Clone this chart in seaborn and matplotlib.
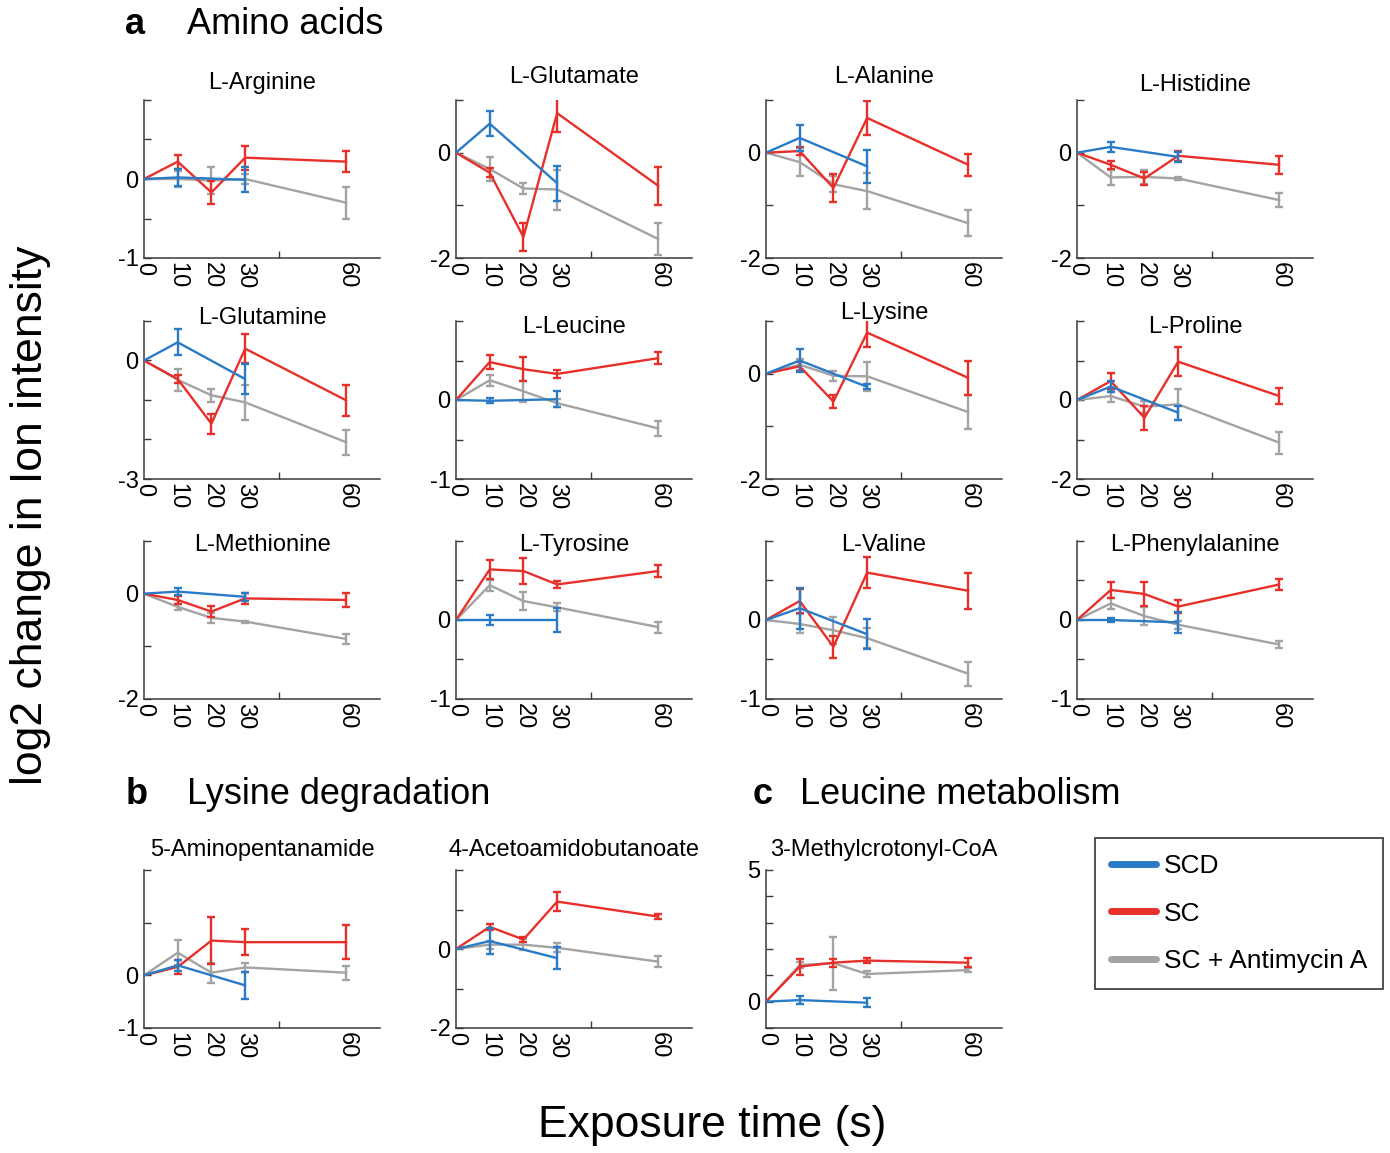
import numpy as np
import pandas as pd
import matplotlib
matplotlib.use("Agg")
import matplotlib.pyplot as plt
from matplotlib.lines import Line2D
import seaborn as sns

sns.set_theme(style="white")
plt.rcParams['font.family'] = ['Liberation Sans', 'DejaVu Sans']
plt.rcParams['axes.unicode_minus'] = False
plt.rcParams['text.color'] = 'black'
plt.rcParams['axes.labelcolor'] = 'black'

# ---------------- data ----------------
time_full = [0, 10, 20, 30, 60]
time_scd = [0, 10, 30]
x_tick_labels = ["0", "10", "20", "30", "60"]
conditions = ["SCD", "SC", "SC + Antimycin A"]

names = ["L-Arginine", "L-Glutamate", "L-Alanine", "L-Histidine",
         "L-Glutamine", "L-Leucine", "L-Lysine", "L-Proline",
         "L-Methionine", "L-Tyrosine", "L-Valine", "L-Phenylalanine",
         "5-Aminopentanamide", "4-Acetoamidobutanoate", "3-Methylcrotonyl-CoA"]

arginine_scd = [0, 0.02, -0.01]; arginine_scd_err = [0, 0.11, 0.16]
arginine_sc = [0, 0.22, -0.17, 0.27, 0.22]; arginine_sc_err = [0, 0.09, 0.15, 0.15, 0.13]
arginine_aa = [0, 0.0, -0.02, 0.0, -0.30]; arginine_aa_err = [0, 0.10, 0.17, 0.06, 0.20]

glutamate_scd = [0, 0.55, -0.58]; glutamate_scd_err = [0, 0.24, 0.33]
glutamate_sc = [0, -0.38, -1.6, 0.75, -0.63]; glutamate_sc_err = [0, 0.08, 0.27, 0.36, 0.36]
glutamate_aa = [0, -0.31, -0.68, -0.70, -1.64]; glutamate_aa_err = [0, 0.22, 0.10, 0.38, 0.30]

alanine_scd = [0, 0.28, -0.26]; alanine_scd_err = [0, 0.24, 0.32]
alanine_sc = [0, 0.03, -0.67, 0.66, -0.23]; alanine_sc_err = [0, 0.08, 0.27, 0.32, 0.21]
alanine_aa = [0, -0.18, -0.60, -0.73, -1.34]; alanine_aa_err = [0, 0.26, 0.15, 0.34, 0.25]

histidine_scd = [0, 0.11, -0.08]; histidine_scd_err = [0, 0.10, 0.10]
histidine_sc = [0, -0.23, -0.49, -0.06, -0.23]; histidine_sc_err = [0, 0.08, 0.12, 0.10, 0.17]
histidine_aa = [0, -0.47, -0.46, -0.49, -0.90]; histidine_aa_err = [0, 0.14, 0.13, 0.03, 0.14]

glutamine_scd = [0, 0.46, -0.47]; glutamine_scd_err = [0, 0.33, 0.37]
glutamine_sc = [0, -0.47, -1.6, 0.30, -1.01]; glutamine_sc_err = [0, 0.10, 0.25, 0.36, 0.39]
glutamine_aa = [0, -0.49, -0.88, -1.06, -2.07]; glutamine_aa_err = [0, 0.27, 0.16, 0.45, 0.31]

leucine_scd = [0, -0.01, 0.01]; leucine_scd_err = [0, 0.03, 0.10]
leucine_sc = [0, 0.48, 0.39, 0.33, 0.53]; leucine_sc_err = [0, 0.09, 0.15, 0.05, 0.08]
leucine_aa = [0, 0.25, 0.11, -0.04, -0.36]; leucine_aa_err = [0, 0.07, 0.13, 0.05, 0.09]

lysine_scd = [0, 0.25, -0.25]; lysine_scd_err = [0, 0.21, 0.05]
lysine_sc = [0, 0.14, -0.53, 0.78, -0.08]; lysine_sc_err = [0, 0.09, 0.12, 0.27, 0.32]
lysine_aa = [0, 0.17, -0.04, -0.05, -0.73]; lysine_aa_err = [0, 0.10, 0.10, 0.27, 0.33]

proline_scd = [0, 0.34, -0.32]; proline_scd_err = [0, 0.14, 0.18]
proline_sc = [0, 0.48, -0.45, 0.97, 0.10]; proline_sc_err = [0, 0.20, 0.31, 0.37, 0.21]
proline_aa = [0, 0.10, -0.17, -0.11, -1.08]; proline_aa_err = [0, 0.16, 0.15, 0.39, 0.28]

methionine_scd = [0, 0.04, -0.06]; methionine_scd_err = [0, 0.06, 0.08]
methionine_sc = [0, -0.12, -0.34, -0.09, -0.12]; methionine_sc_err = [0, 0.07, 0.11, 0.10, 0.14]
methionine_aa = [0, -0.25, -0.46, -0.53, -0.86]; methionine_aa_err = [0, 0.06, 0.10, 0.02, 0.10]

tyrosine_scd = [0, 0.0, 0.0]; tyrosine_scd_err = [0, 0.06, 0.15]
tyrosine_sc = [0, 0.64, 0.62, 0.45, 0.62]; tyrosine_sc_err = [0, 0.12, 0.17, 0.04, 0.08]
tyrosine_aa = [0, 0.44, 0.24, 0.16, -0.09]; tyrosine_aa_err = [0, 0.07, 0.11, 0.05, 0.07]

valine_scd = [0, 0.15, -0.18]; valine_scd_err = [0, 0.26, 0.19]
valine_sc = [0, 0.24, -0.34, 0.60, 0.37]; valine_sc_err = [0, 0.15, 0.14, 0.20, 0.23]
valine_aa = [0, -0.05, -0.13, -0.23, -0.68]; valine_aa_err = [0, 0.12, 0.17, 0.13, 0.15]

phenylalanine_scd = [0, 0.0, -0.03]; phenylalanine_scd_err = [0, 0.03, 0.13]
phenylalanine_sc = [0, 0.38, 0.33, 0.17, 0.45]; phenylalanine_sc_err = [0, 0.10, 0.15, 0.08, 0.07]
phenylalanine_aa = [0, 0.21, 0.05, -0.06, -0.31]; phenylalanine_aa_err = [0, 0.07, 0.11, 0.05, 0.05]

aminopentanamide_scd = [0, 0.19, -0.19]; aminopentanamide_scd_err = [0, 0.10, 0.26]
aminopentanamide_sc = [0, 0.16, 0.66, 0.63, 0.63]; aminopentanamide_sc_err = [0, 0.14, 0.45, 0.25, 0.32]
aminopentanamide_aa = [0, 0.43, 0.05, 0.15, 0.05]; aminopentanamide_aa_err = [0, 0.24, 0.19, 0.08, 0.13]

acetoamidobutanoate_scd = [0, 0.20, -0.23]; acetoamidobutanoate_scd_err = [0, 0.32, 0.27]
acetoamidobutanoate_sc = [0, 0.56, 0.24, 1.20, 0.82]; acetoamidobutanoate_sc_err = [0, 0.07, 0.07, 0.24, 0.06]
acetoamidobutanoate_aa = [0, 0.11, 0.11, 0.03, -0.32]; acetoamidobutanoate_aa_err = [0, 0.10, 0.14, 0.11, 0.14]

methylcrotonyl_scd = [0, 0.06, -0.04]; methylcrotonyl_scd_err = [0, 0.15, 0.17]
methylcrotonyl_sc = [0, 1.33, 1.48, 1.56, 1.48]; methylcrotonyl_sc_err = [0, 0.30, 0.15, 0.10, 0.16]
methylcrotonyl_aa = [0, 1.39, 1.46, 1.05, 1.20]; methylcrotonyl_aa_err = [0, 0.12, 1.01, 0.10, 0.07]

# y-axis settings per panel: (low, high, tick step, labelled ticks)
y_low = [-1, -2, -2, -2, -3, -1, -2, -2, -2, -1, -1, -1, -1, -2, -1]
y_high = [1, 1, 1, 1, 1, 1, 1, 2, 1, 1, 1, 1, 2, 2, 5]
y_step = [0.5, 1, 1, 1, 1, 0.5, 1, 1, 1, 0.5, 0.5, 0.5, 1, 1, 1]
y_labelled = [[-1, 0], [-2, 0], [-2, 0], [-2, 0], [-3, 0], [-1, 0], [-2, 0], [-2, 0],
              [-2, 0], [-1, 0], [-1, 0], [-1, 0], [-1, 0], [-2, 0], [0, 5]]

panel_data = [
    (arginine_scd, arginine_scd_err, arginine_sc, arginine_sc_err, arginine_aa, arginine_aa_err),
    (glutamate_scd, glutamate_scd_err, glutamate_sc, glutamate_sc_err, glutamate_aa, glutamate_aa_err),
    (alanine_scd, alanine_scd_err, alanine_sc, alanine_sc_err, alanine_aa, alanine_aa_err),
    (histidine_scd, histidine_scd_err, histidine_sc, histidine_sc_err, histidine_aa, histidine_aa_err),
    (glutamine_scd, glutamine_scd_err, glutamine_sc, glutamine_sc_err, glutamine_aa, glutamine_aa_err),
    (leucine_scd, leucine_scd_err, leucine_sc, leucine_sc_err, leucine_aa, leucine_aa_err),
    (lysine_scd, lysine_scd_err, lysine_sc, lysine_sc_err, lysine_aa, lysine_aa_err),
    (proline_scd, proline_scd_err, proline_sc, proline_sc_err, proline_aa, proline_aa_err),
    (methionine_scd, methionine_scd_err, methionine_sc, methionine_sc_err, methionine_aa, methionine_aa_err),
    (tyrosine_scd, tyrosine_scd_err, tyrosine_sc, tyrosine_sc_err, tyrosine_aa, tyrosine_aa_err),
    (valine_scd, valine_scd_err, valine_sc, valine_sc_err, valine_aa, valine_aa_err),
    (phenylalanine_scd, phenylalanine_scd_err, phenylalanine_sc, phenylalanine_sc_err, phenylalanine_aa, phenylalanine_aa_err),
    (aminopentanamide_scd, aminopentanamide_scd_err, aminopentanamide_sc, aminopentanamide_sc_err, aminopentanamide_aa, aminopentanamide_aa_err),
    (acetoamidobutanoate_scd, acetoamidobutanoate_scd_err, acetoamidobutanoate_sc, acetoamidobutanoate_sc_err, acetoamidobutanoate_aa, acetoamidobutanoate_aa_err),
    (methylcrotonyl_scd, methylcrotonyl_scd_err, methylcrotonyl_sc, methylcrotonyl_sc_err, methylcrotonyl_aa, methylcrotonyl_aa_err),
]

# ---------------- style / layout ----------------
colors = {"SCD": "#2a7bc6", "SC": "#e8302a", "SC + Antimycin A": "#a3a3a3"}
zorders = {"SCD": 4, "SC": 3, "SC + Antimycin A": 2}
spine_color = "#3a3a3a"

W, H = 1390, 1153
fig = plt.figure(figsize=(W / 100, H / 100), dpi=100)
fig.patch.set_facecolor("white")

col_left = [144, 456, 766, 1077]
row_top = [100, 321, 541, 870]
ax_w, ax_h = 236, 158
title_y = [83, 77, 77, 85, 318, 327, 313, 327, 545, 545, 545, 545, 850, 850, 850]

positions = [(c, r) for r in range(3) for c in range(4)] + [(0, 3), (1, 3), (2, 3)]


def fmt(v):
    return str(int(v)) if float(v).is_integer() else str(v)


for i, name in enumerate(names):
    c, r = positions[i]
    left, top = col_left[c], row_top[r]
    ax = fig.add_axes([left / W, 1 - (top + ax_h) / H, ax_w / W, ax_h / H])
    scd, scd_e, sc, sc_e, aa, aa_e = panel_data[i]
    series = {
        "SC + Antimycin A": (time_full, aa, aa_e),
        "SC": (time_full, sc, sc_e),
        "SCD": (time_scd, scd, scd_e),
    }
    for cond in ["SC + Antimycin A", "SC", "SCD"]:
        t, m, e = series[cond]
        df = pd.DataFrame({"time": t, "value": m, "err": e})
        sns.lineplot(data=df, x="time", y="value", ax=ax, color=colors[cond],
                     linewidth=1.7, zorder=zorders[cond], legend=False)
        sub = df[df["err"] > 0]
        ax.errorbar(sub["time"], sub["value"], yerr=sub["err"], fmt="none",
                    ecolor=colors[cond], elinewidth=1.7, capsize=3, capthick=1.7,
                    zorder=zorders[cond])
    ax.set_xlabel("")
    ax.set_ylabel("")
    ax.set_xlim(0, 70)
    ax.set_ylim(y_low[i], y_high[i])
    ax.set_xticks(time_full)
    ax.set_xticklabels(x_tick_labels, rotation=270)
    ax.set_xticks([0, 20, 40, 60], minor=True)
    ax.tick_params(axis="x", which="major", length=0, pad=3, labelsize=17, labelcolor="black")
    ax.tick_params(axis="x", which="minor", direction="in", length=5, width=1, color=spine_color)
    yt = np.arange(y_low[i], y_high[i] + 1e-9, y_step[i])
    ax.set_yticks(yt)
    ax.set_yticklabels([fmt(v) if v in y_labelled[i] else "" for v in yt])
    ax.tick_params(axis="y", which="major", direction="in", length=5, width=1,
                   color=spine_color, pad=4, labelsize=17, labelcolor="black")
    ax.tick_params(left=True, bottom=True, which="both")
    for s in ["top", "right"]:
        ax.spines[s].set_visible(False)
    for s in ["left", "bottom"]:
        ax.spines[s].set_color(spine_color)
        ax.spines[s].set_linewidth(1.1)
    ax.grid(False)
    fig.text((left + ax_w / 2) / W, 1 - title_y[i] / H, name, ha="center", va="center",
             fontsize=17, color="black")

# panel headings
fig.text(135 / W, 1 - 25 / H, "a", fontsize=26, fontweight="bold", ha="center", va="center")
fig.text(187 / W, 1 - 25 / H, "Amino acids", fontsize=26, ha="left", va="center")
fig.text(137 / W, 1 - 794 / H, "b", fontsize=26, fontweight="bold", ha="center", va="center")
fig.text(187 / W, 1 - 794 / H, "Lysine degradation", fontsize=26, ha="left", va="center")
fig.text(763 / W, 1 - 794 / H, "c", fontsize=26, fontweight="bold", ha="center", va="center")
fig.text(800 / W, 1 - 794 / H, "Leucine metabolism", fontsize=26, ha="left", va="center")

# axis labels
fig.text(31 / W, 1 - 515 / H, "log2 change in Ion intensity", fontsize=32, rotation=90,
         ha="center", va="center")
fig.text(712 / W, 1 - 1126 / H, "Exposure time (s)", fontsize=32, ha="center", va="center")

# legend
handles = [Line2D([0], [0], color=colors[c], lw=5) for c in conditions]
leg = fig.legend(handles, conditions, loc="upper left",
                 bbox_to_anchor=(1095 / W, 1 - 838 / H), fontsize=19, frameon=True,
                 fancybox=False, edgecolor="black", handlelength=1.7, handletextpad=0.3,
                 labelspacing=0.9, borderpad=0.6, borderaxespad=0)
leg.get_frame().set_linewidth(1.2)
for txt in leg.get_texts():
    txt.set_color("black")

fig.savefig("out.png", dpi=100, facecolor="white")
